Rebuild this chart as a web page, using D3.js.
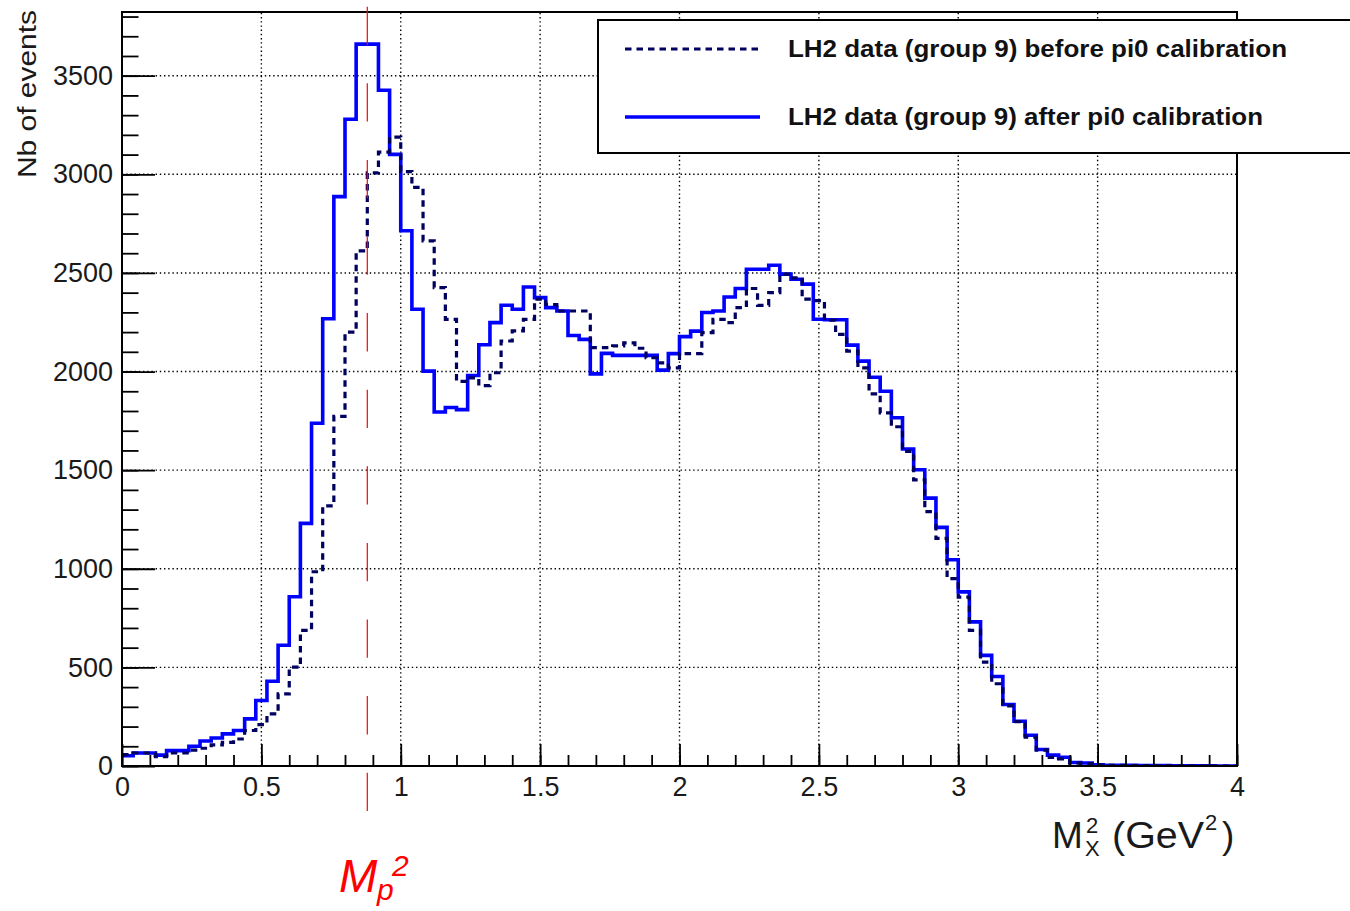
<!DOCTYPE html>
<html>
<head>
<meta charset="utf-8">
<script src="https://cdn.jsdelivr.net/npm/d3@7"></script>
<style>
  html, body { margin: 0; padding: 0; background: #fff; }
  svg { display: block; }
  text { font-family: "Liberation Sans", Arial, Helvetica, sans-serif; }
</style>
</head>
<body>
<svg id="chart" width="1350" height="911"></svg>
<script>
// ---------------- data ----------------
const binLow = 0, binHigh = 4, nBins = 100;            // histogram binning (width 0.04 GeV^2)
const xTickValues = [0, 0.5, 1, 1.5, 2, 2.5, 3, 3.5, 4];
const yTickValues = [0, 500, 1000, 1500, 2000, 2500, 3000, 3500];
const seriesNames = [
  "LH2 data (group 9) before pi0 calibration",
  "LH2 data (group 9) after pi0 calibration"
];
// counts per bin, before pi0 calibration (dashed)
const beforeCounts = [
  58, 66, 66, 48, 66, 66, 81, 90, 107, 120,
  137, 180, 210, 264, 366, 501, 688, 985, 1319, 1773,
  2200, 2612, 3007, 3113, 3189, 3014, 2934, 2663, 2426, 2265,
  1950, 1968, 1929, 1994, 2155, 2206, 2265, 2367, 2340, 2307,
  2307, 2307, 2121, 2121, 2130, 2145, 2118, 2070, 2044, 2019,
  2091, 2091, 2197, 2265, 2248, 2324, 2421, 2336, 2400, 2494,
  2475, 2367, 2360, 2260, 2188, 2104, 2019, 1887, 1790, 1720,
  1595, 1451, 1290, 1154, 950, 856, 688, 527, 417, 305,
  225, 146, 80, 44, 36, 15, 12, 5, 3, 3,
  2, 2, 1, 1, 1, 1, 0, 0, 0, 0
];
// counts per bin, after pi0 calibration (solid blue)
const afterCounts = [
  52, 66, 66, 55, 78, 78, 100, 127, 142, 163,
  180, 239, 332, 430, 612, 858, 1230, 1738, 2268, 2887,
  3279, 3660, 3660, 3426, 3101, 2714, 2316, 2002, 1795, 1818,
  1807, 1980, 2136, 2248, 2336, 2316, 2429, 2375, 2324, 2307,
  2183, 2163, 1988, 2092, 2082, 2082, 2082, 2082, 2007, 2091,
  2177, 2205, 2299, 2307, 2378, 2421, 2519, 2519, 2539, 2494,
  2468, 2443, 2265, 2263, 2263, 2134, 2053, 1971, 1900, 1766,
  1607, 1502, 1358, 1210, 1046, 883, 731, 561, 454, 312,
  227, 156, 84, 55, 44, 18, 15, 6, 4, 3,
  3, 2, 2, 2, 1, 1, 1, 1, 0, 0
];
const protonMass2 = 0.880; // M_p^2 in GeV^2
const yMax = 3823;

// ---------------- layout ----------------
const svg = d3.select("#chart");
const L = 122, R = 1237, T = 12, B = 766;
const x = d3.scaleLinear().domain([binLow, binHigh]).range([L, R]);
const y = d3.scaleLinear().domain([0, yMax]).range([B, T]);
const bw = (binHigh - binLow) / nBins;

// grid
const grid = svg.append("g").attr("stroke", "#000").attr("stroke-width", 1.4)
  .attr("stroke-dasharray", "1.4,2.8");
xTickValues.filter(v => v > binLow && v < binHigh).forEach(v => {
  grid.append("line").attr("x1", x(v)).attr("x2", x(v)).attr("y1", B).attr("y2", T);
});
yTickValues.filter(v => v > 0).forEach(v => {
  grid.append("line").attr("x1", L).attr("x2", R).attr("y1", y(v)).attr("y2", y(v));
});

// clip
svg.append("clipPath").attr("id", "clip").append("rect")
  .attr("x", L).attr("y", T).attr("width", R - L).attr("height", B - T);

function stepPoints(counts) {
  const pts = counts.map((c, i) => ({ e: binLow + i * bw, v: c }));
  pts.push({ e: binHigh, v: counts[counts.length - 1] });
  return pts;
}
const line = d3.line().x(d => x(d.e)).y(d => y(d.v)).curve(d3.curveStepAfter);

const plot = svg.append("g").attr("clip-path", "url(#clip)");
plot.append("path").datum(stepPoints(afterCounts))
  .attr("d", line).attr("fill", "none").attr("stroke", "#0000ff")
  .attr("stroke-width", 3.6).attr("stroke-linejoin", "miter");
plot.append("path").datum(stepPoints(beforeCounts))
  .attr("d", line).attr("fill", "none").attr("stroke", "#000060")
  .attr("stroke-width", 3.2).attr("stroke-dasharray", "6.5,5");

// axes
const xMajor = d3.axisBottom(x).tickValues(xTickValues).tickSize(-22).tickSizeOuter(0).tickPadding(11)
  .tickFormat(d3.format("~g"));
const xMinorVals = d3.range(0, 41).map(i => i / 10);
const xMinor = d3.axisBottom(x).tickValues(xMinorVals).tickSize(-11).tickFormat("");
const yMajor = d3.axisLeft(y).tickValues(yTickValues).tickSize(-33).tickSizeOuter(0).tickPadding(9)
  .tickFormat(d3.format("d"));
const yMinorVals = d3.range(0, 39).map(i => i * 100);
const yMinor = d3.axisLeft(y).tickValues(yMinorVals).tickSize(-16.5).tickFormat("");

function styleAxis(g) {
  g.select(".domain").remove();
  g.selectAll(".tick line").attr("stroke", "#000").attr("stroke-width", 1.8);
  g.selectAll(".tick text").attr("fill", "#1a1a1a").attr("font-size", 27)
    .attr("font-family", "Liberation Sans, Arial, sans-serif");
}
svg.append("g").attr("transform", `translate(0,${B})`).call(xMinor).call(styleAxis);
svg.append("g").attr("transform", `translate(0,${B})`).call(xMajor).call(styleAxis);
svg.append("g").attr("transform", `translate(${L},0)`).call(yMinor).call(styleAxis);
svg.append("g").attr("transform", `translate(${L},0)`).call(yMajor).call(styleAxis);

// frame
svg.append("rect").attr("x", L).attr("y", T).attr("width", R - L).attr("height", B - T)
  .attr("fill", "none").attr("stroke", "#000").attr("stroke-width", 2);

// axis titles
svg.append("text").attr("transform", "translate(36,10) rotate(-90)")
  .attr("text-anchor", "end").attr("font-size", 25).attr("fill", "#1a1a1a")
  .attr("textLength", 168).attr("lengthAdjust", "spacingAndGlyphs")
  .text("Nb of events");

const xt = svg.append("g").attr("fill", "#1a1a1a");
xt.append("text").attr("x", 1052).attr("y", 848).attr("font-size", 37).text("M");
xt.append("text").attr("x", 1086).attr("y", 833).attr("font-size", 22).text("2");
xt.append("text").attr("x", 1085).attr("y", 856).attr("font-size", 22).text("X");
xt.append("text").attr("x", 1112).attr("y", 848).attr("font-size", 37)
  .attr("textLength", 92).attr("lengthAdjust", "spacingAndGlyphs").text("(GeV");
xt.append("text").attr("x", 1205).attr("y", 830).attr("font-size", 22).text("2");
xt.append("text").attr("x", 1222).attr("y", 848).attr("font-size", 37).text(")");

// proton mass marker
svg.append("line").attr("x1", x(protonMass2)).attr("x2", x(protonMass2))
  .attr("y1", 6.7).attr("y2", 812).attr("stroke", "#ff0000").attr("stroke-width", 1.2)
  .attr("stroke-dasharray", "38.3,38.3");
const ml = svg.append("g").attr("fill", "#ff0000").attr("font-style", "italic");
ml.append("text").attr("x", 339).attr("y", 892).attr("font-size", 46).text("M");
ml.append("text").attr("x", 377).attr("y", 900).attr("font-size", 30).text("p");
ml.append("text").attr("x", 392).attr("y", 876).attr("font-size", 30).text("2");

// legend
const lg = svg.append("g");
lg.append("rect").attr("x", 598).attr("y", 20).attr("width", 760).attr("height", 133)
  .attr("fill", "#fff").attr("stroke", "#000").attr("stroke-width", 2);
lg.append("line").attr("x1", 625).attr("x2", 760).attr("y1", 49).attr("y2", 49)
  .attr("stroke", "#000060").attr("stroke-width", 3.2).attr("stroke-dasharray", "6.5,5");
lg.append("line").attr("x1", 625).attr("x2", 760).attr("y1", 117).attr("y2", 117)
  .attr("stroke", "#0000ff").attr("stroke-width", 3.6);
lg.append("text").attr("x", 788).attr("y", 57).attr("font-size", 23).attr("font-weight", "bold")
  .attr("fill", "#111").attr("textLength", 499).attr("lengthAdjust", "spacingAndGlyphs")
  .text(seriesNames[0]);
lg.append("text").attr("x", 788).attr("y", 125).attr("font-size", 23).attr("font-weight", "bold")
  .attr("fill", "#111").attr("textLength", 475).attr("lengthAdjust", "spacingAndGlyphs")
  .text(seriesNames[1]);
</script>
</body>
</html>
